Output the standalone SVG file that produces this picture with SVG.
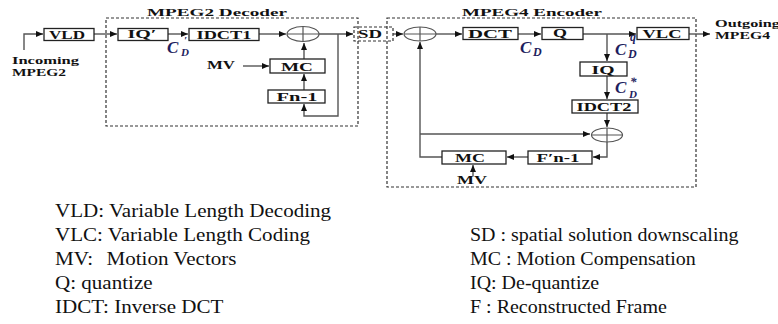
<svg xmlns="http://www.w3.org/2000/svg" width="778" height="324" viewBox="0 0 778 324">
<style>
.bg{fill:#fff}
.frame{fill:none;stroke:#333;stroke-width:1.2;stroke-dasharray:3,2}
.box{fill:#fff;stroke:#222;stroke-width:1.3}
.lbl{font-family:"Liberation Serif",serif;font-weight:bold;font-size:12px;fill:#111;text-anchor:middle}
.ttl{font-family:"Liberation Serif",serif;font-weight:bold;font-size:11px;fill:#111}
.io{font-family:"Liberation Serif",serif;font-weight:bold;font-size:10px;fill:#111}
.sum{fill:#fff;stroke:#555;stroke-width:1.2}
.cross{stroke:#555;stroke-width:1.2}
.wire{fill:none;stroke:#555;stroke-width:1.4}
.math{font-family:"Liberation Serif",serif;font-weight:bold;font-style:italic;fill:#1e1e5e}
.leg{font-family:"Liberation Serif",serif;font-size:18px;fill:#111}
</style>
<defs>
<marker id="ah" markerUnits="userSpaceOnUse" markerWidth="8" markerHeight="7" refX="7" refY="3" orient="auto">
<path d="M0,0 L7,3 L0,6 z" fill="#111"/>
</marker>
</defs>
<rect class="bg" x="0" y="0" width="778" height="324"/>

<g id="frames">
<rect class="frame" x="106" y="18" width="252" height="108"/>
<rect class="frame" x="387" y="18" width="309" height="169"/>
<text class="ttl" x="147" y="16" textLength="140" lengthAdjust="spacingAndGlyphs">MPEG2 Decoder</text>
<text class="ttl" x="462" y="16" textLength="140" lengthAdjust="spacingAndGlyphs">MPEG4 Encoder</text>
</g>

<g id="connectors">
<path class="wire" d="M24,50 V34 H43" marker-end="url(#ah)"/>
<path class="wire" d="M94,34 H117" marker-end="url(#ah)"/>
<path class="wire" d="M168,34 H188" marker-end="url(#ah)"/>
<path class="wire" d="M259,34 H286" marker-end="url(#ah)"/>
<path class="wire" d="M319,34 H353" marker-end="url(#ah)"/>
<path class="wire" d="M338,34 V116 H304 V104" marker-end="url(#ah)"/>
<path class="wire" d="M304,90 V74" marker-end="url(#ah)"/>
<path class="wire" d="M304,59 V43" marker-end="url(#ah)"/>
<path class="wire" d="M243,66 H269" marker-end="url(#ah)"/>
<path class="wire" d="M393,34 H403" marker-end="url(#ah)"/>
<path class="wire" d="M436,34 H462" marker-end="url(#ah)"/>
<path class="wire" d="M518,34 H541" marker-end="url(#ah)"/>
<path class="wire" d="M583,34 H636" marker-end="url(#ah)"/>
<path class="wire" d="M607,34 V61" marker-end="url(#ah)"/>
<path class="wire" d="M689,34 H710" marker-end="url(#ah)"/>
<path class="wire" d="M607,76 V99" marker-end="url(#ah)"/>
<path class="wire" d="M607,113 V127" marker-end="url(#ah)"/>
<path class="wire" d="M607,142 V157 H593" marker-end="url(#ah)"/>
<path class="wire" d="M528,157 H507" marker-end="url(#ah)"/>
<path class="wire" d="M442,157 H420 V42" marker-end="url(#ah)"/>
<path class="wire" d="M420,134 H590" marker-end="url(#ah)"/>
<path class="wire" d="M473,176 V165" marker-end="url(#ah)"/>
</g>

<g id="incoming">
<text class="io" x="12" y="64" textLength="67" lengthAdjust="spacingAndGlyphs">Incoming</text>
<text class="io" x="12" y="76" textLength="54" lengthAdjust="spacingAndGlyphs">MPEG2</text>
</g>
<g id="vld"><rect class="box" x="44" y="28.5" width="50" height="12"/><text class="lbl" x="67" y="39" textLength="36" lengthAdjust="spacingAndGlyphs">VLD</text></g>
<g id="iq1"><rect class="box" x="118" y="28.5" width="50" height="12"/><text class="lbl" x="142" y="37.5" textLength="29" lengthAdjust="spacingAndGlyphs">IQ′</text></g>
<g id="idct1"><rect class="box" x="189" y="28.5" width="70" height="12"/><text class="lbl" x="224" y="39" textLength="55" lengthAdjust="spacingAndGlyphs">IDCT1</text></g>
<g id="sum1"><ellipse class="sum" cx="303" cy="34" rx="16" ry="7.5"/><path class="cross" d="M287,34 H319 M303,26.5 V41.5"/></g>
<g id="mc1"><rect class="box" x="270" y="59" width="55" height="14"/><text class="lbl" x="297" y="71" textLength="32" lengthAdjust="spacingAndGlyphs">MC</text></g>
<g id="fn1"><rect class="box" x="268" y="90" width="57" height="13"/><text class="lbl" x="297" y="101" textLength="41" lengthAdjust="spacingAndGlyphs">Fn-1</text></g>
<g id="mv1"><text class="lbl" x="221" y="69" textLength="28" lengthAdjust="spacingAndGlyphs">MV</text></g>
<g id="cd1">
<text class="math" x="167" y="53"><tspan font-size="17">C</tspan><tspan font-size="11" x="184" y="44">′</tspan><tspan font-size="11" x="181" y="56">D</tspan></text>
</g>

<g id="sd"><rect class="frame" x="354" y="27" width="39" height="14"/><text class="lbl" x="370" y="38" textLength="24" lengthAdjust="spacingAndGlyphs">SD</text></g>

<g id="sum2"><ellipse class="sum" cx="420" cy="34" rx="16" ry="7"/><path class="cross" d="M404,34 H436 M420,27 V41"/></g>
<g id="dct"><rect class="box" x="463" y="27.5" width="55" height="12"/><text class="lbl" x="490" y="38" textLength="44" lengthAdjust="spacingAndGlyphs">DCT</text></g>
<g id="q"><rect class="box" x="542" y="27.5" width="41" height="12"/><text class="lbl" x="560" y="36.5" textLength="14" lengthAdjust="spacingAndGlyphs">Q</text></g>
<g id="vlc"><rect class="box" x="637" y="27.5" width="52" height="12"/><text class="lbl" x="662" y="38" textLength="39" lengthAdjust="spacingAndGlyphs">VLC</text></g>
<g id="outgoing">
<text class="io" x="715" y="27" textLength="65" lengthAdjust="spacingAndGlyphs">Outgoing</text>
<text class="io" x="715" y="39" textLength="55" lengthAdjust="spacingAndGlyphs">MPEG4</text>
</g>
<g id="cd2">
<text class="math" x="520" y="53"><tspan font-size="17">C</tspan><tspan font-size="12" x="533" y="56">D</tspan></text>
</g>
<g id="cdq">
<text class="math" x="615" y="55"><tspan font-size="17">C</tspan><tspan font-size="12" x="630" y="41">q</tspan><tspan font-size="12" x="628" y="58">D</tspan></text>
</g>
<g id="iq2"><rect class="box" x="580" y="62" width="47" height="14"/><text class="lbl" x="603" y="74" textLength="23" lengthAdjust="spacingAndGlyphs">IQ</text></g>
<g id="cds">
<text class="math" x="615" y="93"><tspan font-size="17">C</tspan><tspan font-size="13" x="630" y="86">*</tspan><tspan font-size="11" x="629" y="98">D</tspan></text>
</g>
<g id="idct2"><rect class="box" x="572" y="100" width="66" height="13"/><text class="lbl" x="604" y="111" textLength="55" lengthAdjust="spacingAndGlyphs">IDCT2</text></g>
<g id="sum3"><ellipse class="sum" cx="607" cy="135" rx="15.5" ry="7"/><path class="cross" d="M591.5,135 H622.5 M607,128 V142"/></g>
<g id="fn2"><rect class="box" x="528" y="151" width="64" height="13"/><text class="lbl" x="558" y="162" textLength="43" lengthAdjust="spacingAndGlyphs">F′n-1</text></g>
<g id="mc2"><rect class="box" x="442" y="151" width="64" height="13"/><text class="lbl" x="470" y="162" textLength="30" lengthAdjust="spacingAndGlyphs">MC</text></g>
<g id="mv2"><text class="lbl" x="472" y="184" textLength="30" lengthAdjust="spacingAndGlyphs">MV</text></g>

<g id="legend">
<g transform="translate(55,0) scale(1.17,1)">
<text class="leg" x="0" y="217">VLD: Variable Length Decoding</text>
<text class="leg" x="0" y="241">VLC: Variable Length Coding</text>
<text class="leg" x="0" y="265">MV:<tspan x="44">Motion Vectors</tspan></text>
<text class="leg" x="0" y="289">Q: quantize</text>
<text class="leg" x="0" y="313">IDCT: Inverse DCT</text>
</g>
<g transform="translate(470,0) scale(1.11,1)">
<text class="leg" x="0" y="241">SD : spatial solution downscaling</text>
<text class="leg" x="0" y="265">MC : Motion Compensation</text>
<text class="leg" x="0" y="289">IQ: De-quantize</text>
<text class="leg" x="0" y="313">F : Reconstructed Frame</text>
</g>
</g>
</svg>
